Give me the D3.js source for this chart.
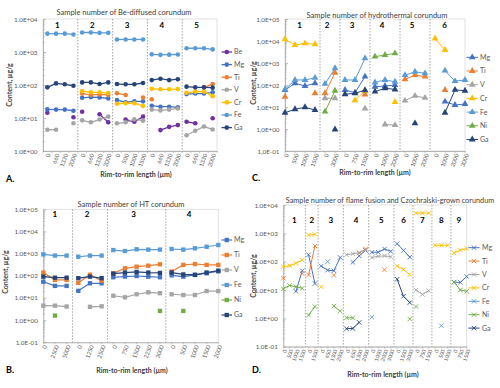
<!DOCTYPE html>
<html><head><meta charset="utf-8">
<script src="https://cdn.jsdelivr.net/npm/d3@7"></script>
<style>body{margin:0;background:#fff}svg{display:block;font-family:Lato,"Open Sans",sans-serif}</style>
</head><body><svg id="c" width="500" height="388"></svg>
<script>
// ---------------- DATA ----------------
// Panel A : Be-diffused corundum
const aLabels  = ["0","660","1330","2000","0","660","1330","2000","0","500","1000","1500","0","660","1330","2000","0","660","1330","2000"];
const aSection = [1,1,1,1,2,2,2,2,3,3,3,3,4,4,4,4,5,5,5,5];
const aBe = [14.5,null,null,10.5, 15.5,null,13,7.4, null,9,7.7,11, null,4.3,5.4,6.1, 7.7,6.9,null,9.8];
const aMg = [18.3,18,18,16.6, 41,43,42,39, 35,30,32,32, 23.6,22,22,21, 53,55,55,60];
const aTi = [null,null,null,null, 55,50,52,50, 56,50,null,42, 37,null,null,null, null,null,85,107];
const aV  = [4.4,4.4,null,6.9, 8.5,7.4,9,11, 6.9,7.4,9.1,8.3, 18,17,18,19.5, 3.0,4.1,5.5,4.5];
const aCr = [null,null,null,null, 65,60,60,57, 27,28,28,23, 77,74,74,75, 58,63,63,46];
const aFe = [3600,3600,3600,3400, 3900,3900,3800,3800, 2400,2400,2400,2400, 850,820,830,840, 1300,1300,1300,1200];
const aGa = [85,112,105,95, 120,120,107,120, 107,105,105,115, 141,155,141,150, 89,85,85,83];

// Panel B : HT corundum
const bLabels  = ["0","2500","5000","0","1250","2500","0","750","1500","2250","3000","0","500","1000","1500","2000"];
const bSection = [1,1,1,2,2,2,3,3,3,3,3,4,4,4,4,4];
const bMg = [54,35,35, 21,46,46, 86,92,98,92,86, 105,92,110,130,160];
const bTi = [139,65,65, 48,112,60, 129,218,258,285,330, 155,310,340,310,310];
const bV  = [4.5,4.5,4.1, null,4,4.2, 12.6,10.7,14.7,18,16.4, 14.7,13.6,13.6,20.5,20.5];
const bFe = [930,815,815, 725,815,815, 1450,1310,1570,1520,1520, 1620,1520,1740,2040,2450];
const bNi = [null,1.6,null, null,null,null, null,null,null,null,2.6, null,2.6,null,null,null];
const bGa = [92,82,82, 78,92,78, 125,140,150,140,135, 140,115,110,140,170];

// Panel C : hydrothermal corundum
const cLabels  = ["0","500","1000","1500","0","3000","0","750","1500","0","1000","2000","0","1000","2000","0","1000","2000","3000"];
const cSection = [1,1,1,1,2,2,3,3,3,4,4,4,5,5,5,6,6,6,6];
const cMg = [59,120,90,120, null,null, 59,45,240, 84,90,100, null,null,null, null,17.5,12.3,13.7];
const cTi = [29,null,null,42, 42,360, null,null,37, null,null,null, 180,280,240, null,59,null,null];
const cV  = [null,null,null,null, 25,25, null,null,8.5, null,1.6,1.5, 19.5,32,26, null,null,null,null];
const cCr = [12000,6600,7800,7100, null,null, null,20,55, null,null,17, null,null,null, 13000,3900,null,null];
const cFe = [63,170,170,210, 113,575, 170,170,1630, 130,170,140, 280,400,340, null,450,150,170];
const cNi = [null,null,null,null, 6.2,55, null,null,null, 1950,2300,2750, null,null,null, null,null,null,null];
const cGa = [5.5,7.9,9.7,7.3, null,0.95, 38,42,58, 50,71,63, null,1.8,null, null,5.5,60,55];

// Panel D : flame fusion and Czochralski-grown corundum
const dLabels  = ["0","500","1000","1500","0","1500","0","650","1300","2000","0","650","1300","2000","0","1000","2000","3000","0","1500","3000","0","750","1500","0","500","1000","0","750","1500"];
const dSection = [1,1,1,1,2,2,3,3,3,3,4,4,4,4,5,5,5,5,6,6,6,7,7,7,8,8,8,9,9,9];
const dMg = [null,null,9,48, 175,17, 70,50,48,140, null,95,160,250, 215,215,280,230, 430,250,145, null,null,null, null,null,null, 19,18.5,30];
const dTi = [26,null,null,38, 34,360, null,null,33,null, null,null,200,280, null,null,52,null, null,null,null, null,null,null, null,null,null, null,null,null];
const dV  = [null,null,null,null, null,null, null,null,null,null, 175,190,210,260, 140,155,160,150, null,null,null, 10,7,9.5, null,null,null, null,null,null];
const dCr = [66,72,88,115, 870,920, 13,null,null,null, null,null,null,null, null,null,null,null, 70,53,35, 5200,5200,5200, 380,380,380, 205,255,290];
const dFe = [null,null,null,null, null,null, null,100,null,null, null,null,null,null, 1.1,null,null,null, null,null,null, null,null,null, null,0.55,null, null,null,null];
const dNi = [11,14.5,13,11.5, 1.3,2.6, null,null,2.7,1.8, 1.05,1.05,null,null, null,null,null,null, null,null,0.95, 2.6,null,null, null,null,null, 19,10,9];
const dGa = [null,null,null,null, null,null, null,null,null,null, 0.43,0.44,0.72,null, null,null,null,null, 24,6,3.6, null,null,null, null,null,null, null,null,null];

// ---------------- STYLE ----------------
const COL = {Be:"#7030A0",Mg:"#4472C4",Ti:"#ED7D31",V:"#A5A5A5",Cr:"#FFC000",Fe:"#5B9BD5",Ni:"#70AD47",Ga:"#264478"};
const FONT = 'Lato,"Open Sans",sans-serif';
const svg = d3.select("#c");
const fmtDot = v => { const e = Math.round(Math.log10(v)); return "1.0E" + (e < 0 ? "-" : "+") + String(Math.abs(e)).padStart(2,"0"); };
const fmtComma = v => fmtDot(v).replace(".", ",");

function drawMarker(sel, type, color, cx, cy) {
  if (type === "circle") {
    sel.append("circle").attr("cx",cx).attr("cy",cy).attr("r",2.3).attr("fill",color);
  } else if (type === "square") {
    sel.append("path").attr("d", d3.symbol(d3.symbolSquare, 19)()).attr("transform",`translate(${cx},${cy})`).attr("fill",color);
  } else if (type === "triangle") {
    sel.append("path").attr("d", d3.symbol(d3.symbolTriangle, 20)()).attr("transform",`translate(${cx},${cy})`).attr("fill",color);
  } else {
    sel.append("path").attr("d","M-2.2,-2.2L2.2,2.2M-2.2,2.2L2.2,-2.2").attr("transform",`translate(${cx},${cy})`)
      .attr("stroke",color).attr("stroke-width",0.9).attr("fill","none");
  }
}

function panel(cfg) {
  const g = svg.append("g");
  const n = cfg.labels.length, idx = d3.range(n);
  let x, xc;
  if (cfg.band) { x = d3.scaleBand().domain(idx).range(cfg.xRange); xc = i => x(i) + x.bandwidth()/2; }
  else { x = d3.scalePoint().domain(idx).range(cfg.xRange); xc = i => x(i); }
  const y = d3.scaleLog().domain(cfg.yDomain).range(cfg.yRange);
  const [x0,x1] = cfg.xRange, [yb,yt] = cfg.yRange;

  g.append("rect").attr("x",x0).attr("y",yt).attr("width",x1-x0).attr("height",yb-yt)
    .attr("fill","none").attr("stroke","#d9d9d9").attr("stroke-width",0.8);

  const e0 = Math.round(Math.log10(cfg.yDomain[0])), e1 = Math.round(Math.log10(cfg.yDomain[1]));
  const majors = d3.range(e0, e1+1).map(e => Math.pow(10,e));
  const minors = [];
  for (let e = e0; e < e1; e++) for (let k = 2; k < 10; k++) minors.push(k*Math.pow(10,e));

  const ym = g.append("g").attr("transform",`translate(${x0},0)`)
    .call(d3.axisLeft(y).tickValues(minors).tickSizeInner(-1.8).tickSizeOuter(0).tickFormat(""));
  ym.select(".domain").remove();
  ym.selectAll("line").attr("stroke","#a6a6a6").attr("stroke-width",0.6);

  const ya = g.append("g").attr("transform",`translate(${x0},0)`)
    .call(d3.axisLeft(y).tickValues(majors).tickSizeInner(-3).tickSizeOuter(0).tickPadding(5.5).tickFormat(cfg.fmt));
  ya.attr("font-family",FONT);
  ya.select(".domain").attr("stroke","#a6a6a6").attr("stroke-width",0.8);
  ya.selectAll("line").attr("stroke","#a6a6a6").attr("stroke-width",0.7);
  ya.selectAll("text").attr("font-size",6.3).attr("fill","#595959");

  const xa = g.append("g").attr("transform",`translate(0,${yb})`)
    .call(d3.axisBottom(x).tickSizeInner(0).tickSizeOuter(0).tickFormat(i => cfg.labels[i]));
  xa.attr("font-family",FONT);
  xa.select(".domain").attr("stroke","#a6a6a6").attr("stroke-width",0.8);
  xa.selectAll("text").attr("x",0).attr("y",0).attr("dy","0.35em")
    .attr("transform","translate(1.5,3) rotate(-70)").attr("text-anchor","end")
    .attr("font-size",cfg.xFont).attr("fill","#595959");
  // small tick marks
  const tickPos = cfg.band ? idx.map(i => x(i)).concat([x1]) : idx.map(xc);
  g.selectAll(null).data(tickPos).enter().append("line")
    .attr("x1",d=>d).attr("x2",d=>d).attr("y1",yb).attr("y2",yb+2)
    .attr("stroke","#a6a6a6").attr("stroke-width",0.6);

  // sections
  const secs = Array.from(new Set(cfg.sections));
  const bounds = secs.map(s => {
    const a = cfg.sections.indexOf(s), b = cfg.sections.lastIndexOf(s);
    const left = a === 0 ? x0 : (cfg.band ? x(a) : (xc(a-1)+xc(a))/2);
    const right = b === n-1 ? x1 : (cfg.band ? x(b)+x.bandwidth() : (xc(b)+xc(b+1))/2);
    return {s, a, b, left, right};
  });
  bounds.slice(1).forEach(d => {
    g.append("line").attr("x1",d.left).attr("x2",d.left).attr("y1",yt).attr("y2",yb)
      .attr("stroke","#7f7f7f").attr("stroke-width",0.7).attr("stroke-dasharray","1.5,1.5");
  });
  bounds.forEach(d => {
    g.append("text").attr("x",(d.left+d.right)/2 + cfg.secDx).attr("y",cfg.secY)
      .attr("text-anchor","middle").attr("font-size",8).attr("font-weight","bold")
      .attr("fill","#000").attr("font-family",FONT).text(d.s);
  });

  // series
  cfg.series.forEach(s => {
    const color = COL[s.name];
    bounds.forEach(d => {
      const ids = d3.range(d.a, d.b+1);
      const line = d3.line().defined(i => s.values[i] != null).x(xc).y(i => y(s.values[i]));
      g.append("path").attr("d", line(ids)).attr("fill","none").attr("stroke",color).attr("stroke-width",cfg.lw);
    });
    idx.forEach(i => { if (s.values[i] != null) drawMarker(g, cfg.marker, color, xc(i), y(s.values[i])); });
  });

  // legend
  cfg.series.forEach((s,k) => {
    const ly = cfg.legend.y0 + k*cfg.legend.dy, color = COL[s.name];
    g.append("line").attr("x1",cfg.legend.x0).attr("x2",cfg.legend.x1).attr("y1",ly).attr("y2",ly)
      .attr("stroke",color).attr("stroke-width",cfg.lw);
    drawMarker(g, cfg.marker, color, (cfg.legend.x0+cfg.legend.x1)/2, ly);
    g.append("text").attr("x",cfg.legend.tx).attr("y",ly).attr("dy","0.35em").attr("font-size",7)
      .attr("fill","#595959").attr("font-family",FONT).text(s.name);
  });

  // titles
  g.append("text").attr("x",cfg.title.x).attr("y",cfg.title.y).attr("text-anchor","middle")
    .attr("font-size",cfg.title.size).attr("fill","#404040").attr("font-family",FONT).text(cfg.title.text);
  g.append("text").attr("transform",`translate(${cfg.yTitle.x},${cfg.yTitle.y}) rotate(-90)`).attr("text-anchor","middle")
    .attr("font-size",7).attr("font-weight","bold").attr("fill","#404040").attr("font-family",FONT).text("Content, µg/g");
  g.append("text").attr("x",cfg.xTitle.x).attr("y",cfg.xTitle.y).attr("text-anchor","middle")
    .attr("font-size",7).attr("font-weight","bold").attr("fill","#404040").attr("font-family",FONT).text("Rim-to-rim length (µm)");
  g.append("text").attr("x",cfg.letter.x).attr("y",cfg.letter.y)
    .attr("font-size",9).attr("font-weight","bold").attr("fill","#000").attr("font-family",FONT).text(cfg.letter.text);
}

panel({
  band:true, xRange:[43,217], yDomain:[1,1e4], yRange:[151,19], fmt:fmtDot, xFont:5.8,
  labels:aLabels, sections:aSection, marker:"circle", lw:1.3, secY:28, secDx:-3,
  series:[{name:"Be",values:aBe},{name:"Mg",values:aMg},{name:"Ti",values:aTi},{name:"V",values:aV},
          {name:"Cr",values:aCr},{name:"Fe",values:aFe},{name:"Ga",values:aGa}],
  legend:{x0:221.5,x1:232,tx:234,y0:52,dy:12.6},
  title:{text:"Sample number of Be-diffused corundum",x:124,y:15,size:7.5},
  yTitle:{x:12,y:85}, xTitle:{x:136,y:177}, letter:{text:"A.",x:6,y:182}
});
panel({
  band:false, xRange:[43.3,218.3], yDomain:[0.1,1e5], yRange:[342.3,209.3], fmt:fmtDot, xFont:5.8,
  labels:bLabels, sections:bSection, marker:"square", lw:1.2, secY:216.5, secDx:-3,
  series:[{name:"Mg",values:bMg},{name:"Ti",values:bTi},{name:"V",values:bV},
          {name:"Fe",values:bFe},{name:"Ni",values:bNi},{name:"Ga",values:bGa}],
  legend:{x0:221.5,x1:232,tx:234,y0:240,dy:15},
  title:{text:"Sample number of HT corundum",x:131,y:207,size:7.5},
  yTitle:{x:8,y:272}, xTitle:{x:132,y:372.5}, letter:{text:"B.",x:6,y:373}
});
panel({
  band:false, xRange:[285,465], yDomain:[0.1,1e5], yRange:[151,19], fmt:fmtComma, xFont:5.8,
  labels:cLabels, sections:cSection, marker:"triangle", lw:1, secY:28, secDx:-3,
  series:[{name:"Mg",values:cMg},{name:"Ti",values:cTi},{name:"V",values:cV},{name:"Cr",values:cCr},
          {name:"Fe",values:cFe},{name:"Ni",values:cNi},{name:"Ga",values:cGa}],
  legend:{x0:466.5,x1:478,tx:480,y0:57.3,dy:13.7},
  title:{text:"Sample number of hydrothermal corundum",x:377,y:17.5,size:7.5},
  yTitle:{x:256,y:83}, xTitle:{x:375,y:175}, letter:{text:"C.",x:252,y:181}
});
panel({
  band:false, xRange:[283.3,466.7], yDomain:[0.1,1e4], yRange:[346.7,205], fmt:fmtDot, xFont:5.2,
  labels:dLabels, sections:dSection, marker:"cross", lw:1, secY:223, secDx:0,
  series:[{name:"Mg",values:dMg},{name:"Ti",values:dTi},{name:"V",values:dV},{name:"Cr",values:dCr},
          {name:"Fe",values:dFe},{name:"Ni",values:dNi},{name:"Ga",values:dGa}],
  legend:{x0:468.5,x1:479.5,tx:482,y0:247.7,dy:13.4},
  title:{text:"Sample number of flame fusion and Czochralski-grown corundum",x:390,y:202.5,size:7.3},
  yTitle:{x:256,y:276}, xTitle:{x:383,y:377}, letter:{text:"D.",x:252,y:373}
});
</script></body></html>
